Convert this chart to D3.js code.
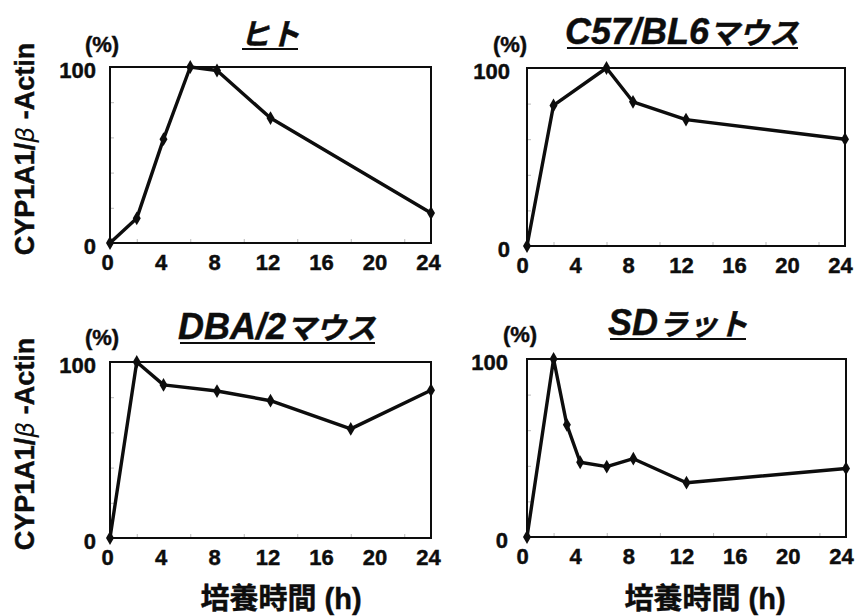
<!DOCTYPE html>
<html>
<head>
<meta charset="utf-8">
<script src="https://cdn.jsdelivr.net/npm/d3@7"></script>
<style>
  html, body { margin: 0; padding: 0; background: #fff; }
  svg { display: block; }
  text { stroke: #0d0d0d; stroke-width: 0.45px; paint-order: stroke; }
</style>
</head>
<body>
<svg id="chart" width="856" height="616"></svg>
<script>
// Culture time course of CYP1A1 mRNA (relative to β-Actin), four species
const hoursHuman = [0, 2, 4, 6, 8, 12, 24];
const valuesHuman = [0, 14, 59, 100, 98, 71, 17];

const hoursC57 = [0, 2, 6, 8, 12, 24];
const valuesC57 = [0, 79, 100, 81, 71, 60];

const hoursDBA = [0, 2, 4, 8, 12, 18, 24];
const valuesDBA = [0, 100, 87, 83.5, 78, 62, 84];

const hoursSD = [0, 2, 3, 4, 6, 8, 12, 24];
const valuesSD = [0, 100, 63, 42, 39.5, 44, 30.5, 38.5];

// titles split into latin part and kana part
const titleLatin = ["", "C57/BL6", "DBA/2", "SD"];
const titleKana = ["ヒト", "マウス", "マウス", "ラット"];
const xTicks = [0, 4, 8, 12, 16, 20, 24];
const xMinor = [2, 6, 10, 14, 18, 22];
const yTicks = [0, 100];
const yMinor = [20, 40, 60, 80];
const yLabel = ["CYP1A1/", "β", " -Actin"];
const xLabel = "培養時間 (h)";
const unitLabel = "(%)";

const seriesList = [
  { hours: hoursHuman, values: valuesHuman },
  { hours: hoursC57, values: valuesC57 },
  { hours: hoursDBA, values: valuesDBA },
  { hours: hoursSD, values: valuesSD }
];

const LATIN = "'Liberation Sans', Arial, sans-serif";
const MIXED = "'Liberation Sans', 'Noto Sans CJK JP', sans-serif";
const INK = "#0d0d0d";

// Plot frames and label anchors for each panel
const frames = [
  { x0: 110, x1: 431, y0: 67, y1: 243, titleX: 270, titleY: 45, unitX: 102, unitY: 52, yPad: 14, xDx: -3, yLab: true, xLab: false },
  { x0: 527, x1: 845, y0: 68, y1: 246, titleX: 682, titleY: 44, unitX: 510, unitY: 52, yPad: 17, xDx: -5, yLab: false, xLab: false },
  { x0: 110, x1: 431, y0: 362, y1: 538, titleX: 277, titleY: 339, unitX: 102, unitY: 345, yPad: 14, xDx: -3, yLab: true, xLab: true, xLabX: 281 },
  { x0: 527, x1: 846, y0: 359, y1: 537, titleX: 678, titleY: 335, unitX: 520, unitY: 342, yPad: 19, xDx: -5, yLab: false, xLab: true, xLabX: 705 }
];

const svg = d3.select("#chart");

frames.forEach((f, i) => {
  const s = seriesList[i];
  const x = d3.scaleLinear().domain([0, 24]).range([f.x0, f.x1]);
  const y = d3.scaleLinear().domain([0, 100]).range([f.y1, f.y0]);
  const g = svg.append("g");

  // minor inner ticks
  g.append("g")
    .attr("transform", `translate(0,${f.y1})`)
    .call(d3.axisBottom(x).tickValues(xMinor).tickSize(-4).tickFormat(""))
    .call(a => a.select(".domain").remove())
    .call(a => a.selectAll("line").attr("stroke", "#bbb").attr("stroke-width", 1));
  g.append("g")
    .attr("transform", `translate(${f.x0},0)`)
    .call(d3.axisRight(y).tickValues(yMinor).tickSize(4).tickFormat(""))
    .call(a => a.select(".domain").remove())
    .call(a => a.selectAll("line").attr("stroke", "#bbb").attr("stroke-width", 1));

  // x tick labels
  g.append("g")
    .attr("transform", `translate(0,${f.y1})`)
    .call(d3.axisBottom(x).tickValues(xTicks).tickSize(0).tickPadding(11))
    .call(a => a.select(".domain").remove())
    .call(a => a.selectAll("text")
      .attr("font-size", 22).attr("fill", INK)
      .attr("dx", f.xDx).attr("dy", "0.72em").attr("y", 11)
      .style("font-family", LATIN)
      .style("font-weight", "bold"));

  // y tick labels
  g.append("g")
    .attr("transform", `translate(${f.x0},0)`)
    .call(d3.axisLeft(y).tickValues(yTicks).tickSize(0).tickPadding(f.yPad))
    .call(a => a.select(".domain").remove())
    .call(a => a.selectAll("text")
      .attr("font-size", 22).attr("fill", INK)
      .attr("dy", "0.48em")
      .style("font-family", LATIN)
      .style("font-weight", "bold"));

  // frame
  g.append("rect")
    .attr("x", f.x0).attr("y", f.y0)
    .attr("width", f.x1 - f.x0).attr("height", f.y1 - f.y0)
    .attr("fill", "none").attr("stroke", INK).attr("stroke-width", 2);

  // data line + markers
  const pts = s.hours.map((h, k) => [h, s.values[k]]);
  g.append("path")
    .datum(pts)
    .attr("fill", "none").attr("stroke", INK)
    .attr("stroke-width", 3.4).attr("stroke-linejoin", "round")
    .attr("d", d3.line().x(d => x(d[0])).y(d => y(d[1])));
  g.selectAll(".mk").data(pts).join("path")
    .attr("transform", d => `translate(${x(d[0])},${y(d[1])})`)
    .attr("d", d3.symbol(d3.symbolDiamond, 55))
    .attr("fill", INK);

  // unit label
  g.append("text")
    .attr("x", f.unitX).attr("y", f.unitY)
    .attr("text-anchor", "middle")
    .attr("font-size", 22).attr("fill", INK)
    .style("font-family", LATIN)
    .style("font-weight", "bold")
    .text(unitLabel);

  // panel title, italic and underlined
  const t = g.append("text")
    .attr("x", f.titleX).attr("y", f.titleY)
    .attr("text-anchor", "middle")
    .attr("fill", INK)
    .style("font-family", MIXED)
    .style("font-weight", "bold")
    .style("font-style", "italic");
  if (titleLatin[i]) t.append("tspan").attr("font-size", 36).text(titleLatin[i]);
  t.append("tspan").attr("font-size", 30).text(titleKana[i]);
  const bb = t.node().getBBox();
  g.append("line")
    .attr("x1", bb.x + 2).attr("x2", bb.x + bb.width - 2)
    .attr("y1", f.titleY + 4).attr("y2", f.titleY + 4)
    .attr("stroke", INK).attr("stroke-width", 2);

  // y axis title
  if (f.yLab) {
    const cy = (f.y0 + f.y1) / 2 - 6;
    const yl = g.append("text")
      .attr("transform", `translate(34,${cy}) rotate(-90)`)
      .attr("text-anchor", "middle")
      .attr("font-size", 27).attr("fill", INK)
      .style("font-family", LATIN)
      .style("font-weight", "bold");
    yl.append("tspan").text(yLabel[0]);
    yl.append("tspan").style("font-weight", "normal").style("font-style", "italic")
      .style("stroke-width", "0px")
      .style("font-family", "'DejaVu Sans', sans-serif").attr("font-size", 25).text(yLabel[1]);
    yl.append("tspan").text(yLabel[2]);
  }

  // x axis title
  if (f.xLab) {
    g.append("text")
      .attr("x", f.xLabX).attr("y", 609)
      .attr("text-anchor", "middle")
      .attr("font-size", 29).attr("fill", INK)
      .style("font-family", MIXED)
      .style("font-weight", "bold")
      .text(xLabel);
  }
});
</script>
</body>
</html>
